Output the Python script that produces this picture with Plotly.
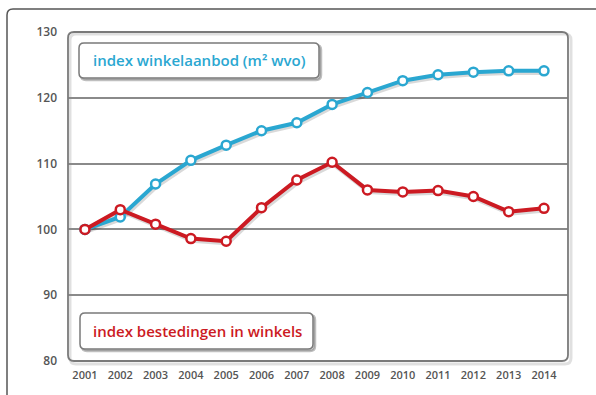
import plotly.graph_objects as go

years = list(range(2001, 2015))
winkelaanbod = [100, 101.9, 106.9, 110.5, 112.8, 115.0, 116.2, 119.0, 120.8, 122.6, 123.5, 123.9, 124.1, 124.1]
bestedingen = [100, 103.0, 100.8, 98.6, 98.2, 103.3, 107.5, 110.2, 106.0, 105.7, 105.9, 105.0, 102.7, 103.2]
y_ticks = [80, 90, 100, 110, 120, 130]
label_blue = "index winkelaanbod (m² wvo)"
label_red = "index bestedingen in winkels"

BLUE = "#2AA7D1"
RED = "#CC1A22"
GRID = "#8A8A8A"
FONT = "Open Sans"

W, H = 596, 395
L, R, T, B = 68, 28, 32, 34
PW, PH = W - L - R, H - T - B


def px2paper(x, y):
    return (x - L) / PW, (H - B - y) / PH


def rounded_path(x0, y0, x1, y1, r):
    rx, ry = r / PW, r / PH
    a0, b0 = px2paper(x0, y0)
    a1, b1 = px2paper(x1, y1)
    return (f"M {a0+rx},{b0} L {a1-rx},{b0} Q {a1},{b0} {a1},{b0-ry} "
            f"L {a1},{b1+ry} Q {a1},{b1} {a1-rx},{b1} "
            f"L {a0+rx},{b1} Q {a0},{b1} {a0},{b1+ry} "
            f"L {a0},{b0-ry} Q {a0},{b0} {a0+rx},{b0} Z")


fig = go.Figure()

for vals in (winkelaanbod, bestedingen):
    fig.add_trace(go.Scatter(
        x=[v + 0.04 for v in years], y=[v - 0.25 for v in vals], mode="lines",
        line=dict(color="rgba(0,0,0,0.15)", width=5), hoverinfo="skip", showlegend=False))

fig.add_trace(go.Scatter(
    x=years, y=winkelaanbod, mode="lines+markers", name=label_blue,
    line=dict(color=BLUE, width=4),
    marker=dict(size=9, color="white", line=dict(color=BLUE, width=2.5)),
    showlegend=False))
fig.add_trace(go.Scatter(
    x=years, y=bestedingen, mode="lines+markers", name=label_red,
    line=dict(color=RED, width=4),
    marker=dict(size=9, color="white", line=dict(color=RED, width=2.5)),
    showlegend=False))

shapes = []
shapes.append(dict(type="path", xref="paper", yref="paper", layer="below",
                   path=rounded_path(7, 9, W + 20, H + 20, 6),
                   line=dict(color="#555555", width=1.5), fillcolor="rgba(0,0,0,0)"))
shapes.append(dict(type="path", xref="paper", yref="paper", layer="below",
                   path=rounded_path(70, 34, 571, 364, 6),
                   line=dict(color="rgba(0,0,0,0.12)", width=3), fillcolor="rgba(0,0,0,0)"))
shapes.append(dict(type="path", xref="paper", yref="paper", layer="above",
                   path=rounded_path(68, 32, 568, 361, 6),
                   line=dict(color="#7A7A7A", width=1.8), fillcolor="rgba(0,0,0,0)"))

for (x0, y0, x1, y1) in [(79, 43, 319, 78), (80, 313, 313, 349)]:
    shapes.append(dict(type="path", xref="paper", yref="paper", layer="above",
                       path=rounded_path(x0 + 2, y0 + 2, x1 + 2, y1 + 2, 5),
                       line=dict(color="rgba(0,0,0,0.25)", width=2.5), fillcolor="rgba(0,0,0,0.15)"))
    shapes.append(dict(type="path", xref="paper", yref="paper", layer="above",
                       path=rounded_path(x0, y0, x1, y1, 5),
                       line=dict(color="#7A7A7A", width=1.5), fillcolor="white"))

bx, by = px2paper(199, 60)
rx, ry = px2paper(197, 331)
annotations = [
    dict(x=bx, y=by, xref="paper", yref="paper", text=label_blue, showarrow=False,
         xanchor="center", yanchor="middle",
         font=dict(family=FONT, size=15, color=BLUE, weight=600)),
    dict(x=rx, y=ry, xref="paper", yref="paper", text=label_red, showarrow=False,
         xanchor="center", yanchor="middle",
         font=dict(family=FONT, size=15, color=RED, weight=600)),
]

fig.update_layout(
    width=W, height=H,
    margin=dict(l=L, r=R, t=T, b=B),
    paper_bgcolor="white", plot_bgcolor="white",
    shapes=shapes, annotations=annotations,
    xaxis=dict(range=[2000.52, 2014.68], tickmode="array", tickvals=years,
               ticktext=[str(y) for y in years], showgrid=False, zeroline=False,
               showline=False, ticks="", ticklabelstandoff=6,
               tickfont=dict(family=FONT, size=11, color="#555555", weight=600)),
    yaxis=dict(range=[80, 130], tickmode="array", tickvals=y_ticks,
               ticktext=[str(v) for v in y_ticks], showgrid=True, gridcolor=GRID,
               gridwidth=1.5, zeroline=False, showline=False, ticks="",
               ticklabelstandoff=10,
               tickfont=dict(family=FONT, size=12, color="#555555", weight=600)),
)

fig.write_html("out.html")
